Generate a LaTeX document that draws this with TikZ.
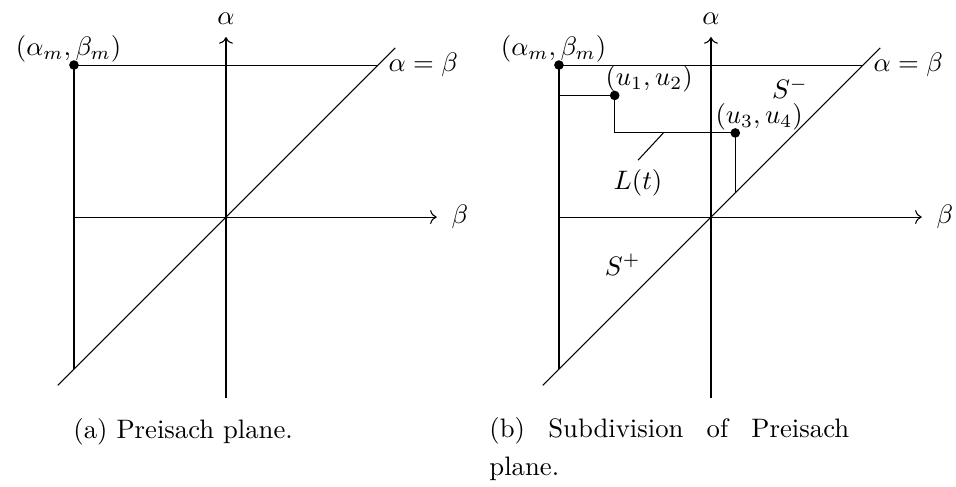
\documentclass[tikz,border=0pt]{standalone}
\usepackage{amsmath,amssymb}
\usepackage{tikz}
\usetikzlibrary{arrows.meta}

\begin{document}
\begin{tikzpicture}[>=To,x=1.334cm,y=1.334cm,dot/.style={circle,fill,inner sep=0pt,minimum size=3.6pt},lab/.style={inner sep=1pt}]
\useasboundingbox (-2.23,-2.655) rectangle (7.204,2.142);
\foreach \p/\dx in {a/0,b/4.786}{\begin{scope}[shift={(\dx,0)}]
\coordinate (\p-at) at (0,1.776);\coordinate (\p-ab) at (0,-1.786);\coordinate (\p-bl) at (-1.5,0);\coordinate (\p-br) at (2.08,0);
\coordinate (\p-dl) at (-1.66,-1.66);\coordinate (\p-du) at (1.67,1.67);\coordinate (\p-ml) at (-1.5,-1.5);\coordinate (\p-mr) at (1.5,1.5);
\node[dot] (\p-m) at (-1.5,1.5){};
\draw[->] (\p-ab)--(\p-at) node[above=1pt] (\p-alpha){$\alpha$};
\draw[->] (\p-bl)--(\p-br) node[right=2pt] (\p-beta){$\beta$};
\draw (\p-ml)--(\p-m.center)--(\p-mr);\draw (\p-dl)--(\p-du);
\node[lab,anchor=south,xshift=-2pt] (\p-mlab) at (\p-m){$(\alpha_m,\beta_m)$};
\node[anchor=west,inner sep=0pt] (\p-diag) at (1.6,1.5){$\alpha=\beta$};
\end{scope}}
\begin{scope}[shift={(4.786,0)}]
\node[dot] (u12) at (-0.95,1.2){};\node[dot] (u34) at (0.24,0.83){};
\coordinate (l1) at (-1.5,1.2);\coordinate (k1) at (-0.95,0.83);\coordinate (k2) at (0.24,0.24);\coordinate (lt) at (-0.47,0.83);
\draw (l1)--(u12.center)--(k1)--(u34.center)--(k2);
\node[lab,anchor=south] (u12lab) at (-0.61,1.2){$(u_1,u_2)$};
\node[lab,anchor=south,inner sep=0.5pt] (u34lab) at (0.475,0.84){$(u_3,u_4)$};
\node (Lt) at (-0.72,0.336){$L(t)$};\draw (lt)--(Lt.north);
\node[inner sep=0.5pt] (Sm) at (0.78,1.27){$S^-$};\node (Sp) at (-0.87,-0.47){$S^+$};
\end{scope}
\node[anchor=west,inner sep=0pt] (capa) at (-1.51,-2.12){(a) Preisach plane.};
\node[anchor=north west,inner sep=0pt,text width=4.736cm,align=justify,font=\fontsize{10}{14.2}\selectfont] (capb) at (2.595,-1.974){(b) Subdivision of Preisach plane.};
\end{tikzpicture}
\end{document}
